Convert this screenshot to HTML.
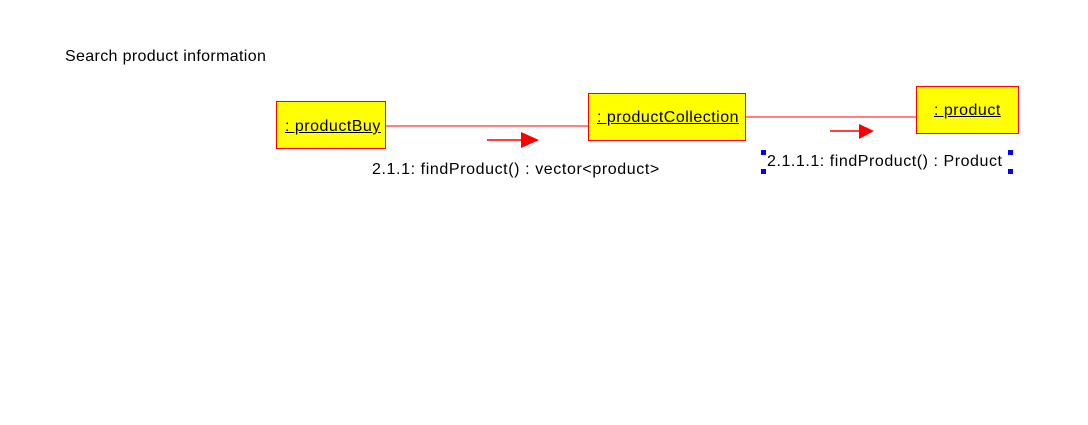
<!DOCTYPE html>
<html><head><style>
body{margin:0;width:1088px;height:425px;background:#fff;position:relative;overflow:hidden;font-family:"Liberation Sans","Noto Sans CJK KR",sans-serif;}
.b{position:absolute;background:#ffff00;border:1px solid #ff0000;box-sizing:border-box;font-size:16px;letter-spacing:0.5px;color:#000;}
.b span{position:absolute;text-decoration:underline;white-space:nowrap;}
.t{position:absolute;font-size:16px;letter-spacing:0.5px;white-space:nowrap;color:#000;}
.h{position:absolute;width:5px;height:5px;background:#0000ff;}
</style></head><body>
<div class="t" style="left:65px;top:48px;letter-spacing:0.35px;">Search product information</div>
<svg style="position:absolute;left:0;top:0" width="1088" height="425">
<line x1="386" y1="126" x2="588" y2="126" stroke="#ff0000" stroke-width="1"/>
<line x1="746" y1="117" x2="916" y2="117" stroke="#ff0000" stroke-width="1"/>
<line x1="487" y1="140" x2="521" y2="140" stroke="#ff0000" stroke-width="1.5"/>
<polygon points="521,132 539,140 521,148" fill="#ff0000"/>
<line x1="830" y1="131" x2="859" y2="131" stroke="#ff0000" stroke-width="1.5"/>
<polygon points="859,124 874,131 859,139" fill="#ff0000"/>
</svg>
<div class="b" style="left:276px;top:101px;width:110px;height:48px;"><span style="left:8px;top:16px;">: productBuy</span></div>
<div class="b" style="left:588px;top:93px;width:158px;height:48px;"><span style="left:8px;top:15px;">: productCollection</span></div>
<div class="b" style="left:916px;top:86px;width:103px;height:48px;"><span style="left:17px;top:15px;">: product</span></div>
<div class="t" style="left:372px;top:161px;letter-spacing:0.6px;">2.1.1: findProduct() : vector&lt;product&gt;</div>
<div class="t" style="left:767px;top:153px;letter-spacing:0.55px;">2.1.1.1: findProduct() : Product</div>
<div class="h" style="left:761px;top:150px;"></div>
<div class="h" style="left:761px;top:169px;"></div>
<div class="h" style="left:1008px;top:150px;"></div>
<div class="h" style="left:1008px;top:169px;"></div>
</body></html>
